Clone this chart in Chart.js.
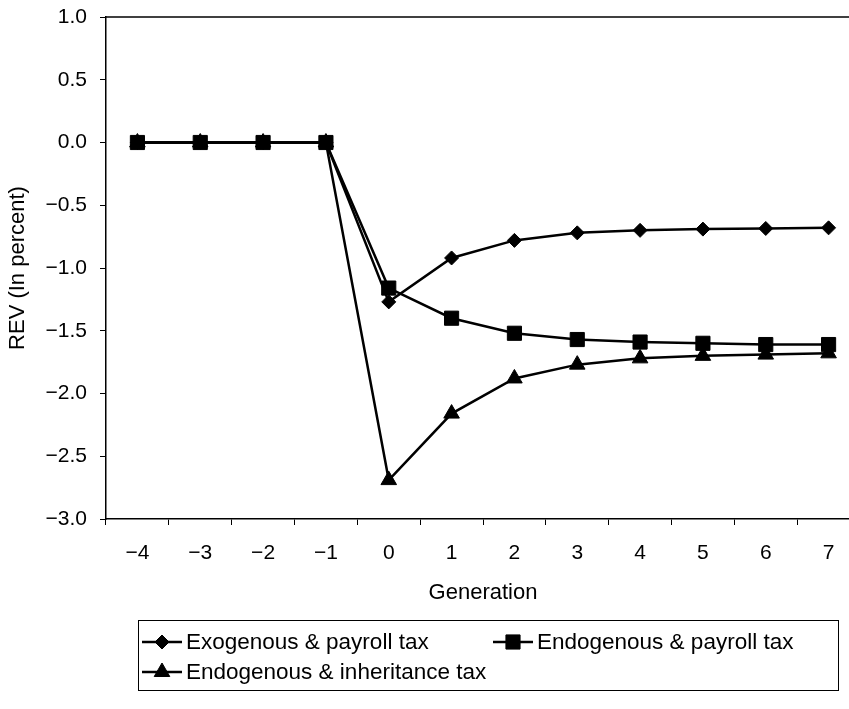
<!DOCTYPE html>
<html>
<head>
<meta charset="utf-8">
<script src="https://cdn.jsdelivr.net/npm/chart.js@4"></script>
<style>
  html, body { margin: 0; padding: 0; background: #fff; overflow: hidden; }
  canvas { display: block; }
</style>
</head>
<body>
<canvas id="grafico" width="880" height="709"></canvas>
<script>
const generaciones = [-4, -3, -2, -1, 0, 1, 2, 3, 4, 5, 6, 7];
const exogenaNomina = [0, 0, 0, 0, -1.27, -0.92, -0.78, -0.72, -0.70, -0.69, -0.685, -0.68];
const endogenaNomina = [0, 0, 0, 0, -1.16, -1.40, -1.52, -1.57, -1.59, -1.60, -1.61, -1.61];
const endogenaHerencia = [0, 0, 0, 0, -2.69, -2.16, -1.88, -1.77, -1.72, -1.70, -1.69, -1.68];
const ticksY = [1.0, 0.5, 0.0, -0.5, -1.0, -1.5, -2.0, -2.5, -3.0];
const nombresSeries = ["Exogenous & payroll tax", "Endogenous & payroll tax", "Endogenous & inheritance tax"];

const fuente = "'Liberation Sans', Arial, sans-serif";
const menos = v => String(v).replace("-", "\u2212");

function serie(nombre, datos, estilo, radio) {
    return {
        label: nombre,
        data: datos,
        borderColor: "#000",
        backgroundColor: "#000",
        borderWidth: 2.5,
        pointStyle: estilo,
        pointRadius: radio,
        pointBorderWidth: 1,
        pointBackgroundColor: "#000",
        pointBorderColor: "#000",
        tension: 0
    };
}

function dibujarMarcador(ctx, estilo, x, y, r) {
    ctx.beginPath();
    if (estilo === "rectRot") {
        ctx.moveTo(x - r, y); ctx.lineTo(x, y - r); ctx.lineTo(x + r, y); ctx.lineTo(x, y + r);
    } else if (estilo === "rect") {
        const s = r * Math.SQRT1_2;
        ctx.rect(x - s, y - s, 2 * s, 2 * s);
    } else {
        ctx.moveTo(x, y - r);
        ctx.lineTo(x + r * 0.866, y + r / 2);
        ctx.lineTo(x - r * 0.866, y + r / 2);
    }
    ctx.closePath();
    ctx.fill();
    ctx.stroke();
}

// borde superior del area del grafico y leyenda con recuadro
const marcoYLeyenda = {
    id: "marcoYLeyenda",
    afterDraw(chart) {
        const ctx = chart.ctx;
        const a = chart.chartArea;
        ctx.save();
        ctx.strokeStyle = "#000";
        ctx.lineWidth = 1.5;
        ctx.beginPath();
        ctx.moveTo(a.left, a.top);
        ctx.lineTo(a.right, a.top);
        ctx.stroke();

        ctx.lineWidth = 1;
        ctx.strokeRect(138.5, 620.5, 700, 70);

        const posiciones = [[142, 642], [493, 642], [142, 672]];
        ctx.font = "22.5px " + fuente;
        ctx.textBaseline = "middle";
        ctx.fillStyle = "#000";
        chart.data.datasets.forEach((ds, i) => {
            const [x, y] = posiciones[i];
            ctx.lineWidth = 2.5;
            ctx.beginPath();
            ctx.moveTo(x, y);
            ctx.lineTo(x + 40, y);
            ctx.stroke();
            ctx.lineWidth = 1;
            dibujarMarcador(ctx, ds.pointStyle, x + 20, y, ds.pointRadius);
            ctx.fillText(ds.label, x + 44, y + 1);
        });
        ctx.restore();
    }
};

const ctx = document.getElementById("grafico").getContext("2d");
new Chart(ctx, {
    type: "line",
    data: {
        labels: generaciones,
        datasets: [
            serie(nombresSeries[0], exogenaNomina, "rectRot", 7),
            serie(nombresSeries[1], endogenaNomina, "rect", 10),
            serie(nombresSeries[2], endogenaHerencia, "triangle", 9)
        ]
    },
    options: {
        responsive: false,
        animation: false,
        devicePixelRatio: 1,
        layout: { padding: { left: 0, right: 20, top: 17, bottom: 100 } },
        plugins: {
            legend: { display: false },
            tooltip: { enabled: false }
        },
        scales: {
            x: {
                offset: true,
                grid: { display: true, offset: true, drawOnChartArea: false, drawTicks: true, tickLength: 6, color: "#000", lineWidth: 1 },
                border: { display: true, color: "#000", width: 1.5 },
                ticks: {
                    color: "#000",
                    font: { family: fuente, size: 21 },
                    padding: 16,
                    maxRotation: 0,
                    autoSkip: false,
                    callback: function (v, i) { return menos(generaciones[i]); }
                },
                title: {
                    display: true,
                    text: "Generation",
                    color: "#000",
                    font: { family: fuente, size: 22 },
                    padding: { top: 0, bottom: 3 }
                },
                afterFit: s => { s.height = 90; s.paddingLeft = 0; s.paddingRight = 0; }
            },
            y: {
                min: -3,
                max: 1,
                afterBuildTicks: s => { s.ticks = ticksY.map(v => ({ value: v })); },
                grid: { display: true, drawOnChartArea: false, drawTicks: true, tickLength: 6, color: "#000", lineWidth: 1 },
                border: { display: true, color: "#000", width: 1.5 },
                ticks: {
                    color: "#000",
                    font: { family: fuente, size: 21 },
                    padding: 13,
                    callback: v => menos(v.toFixed(1))
                },
                title: {
                    display: true,
                    text: "REV (In percent)",
                    color: "#000",
                    font: { family: fuente, size: 22 },
                    padding: { top: 5, bottom: 0 }
                },
                afterFit: s => { s.width = 106; s.paddingTop = 0; s.paddingBottom = 0; }
            }
        }
    },
    plugins: [marcoYLeyenda]
});
</script>
</body>
</html>
